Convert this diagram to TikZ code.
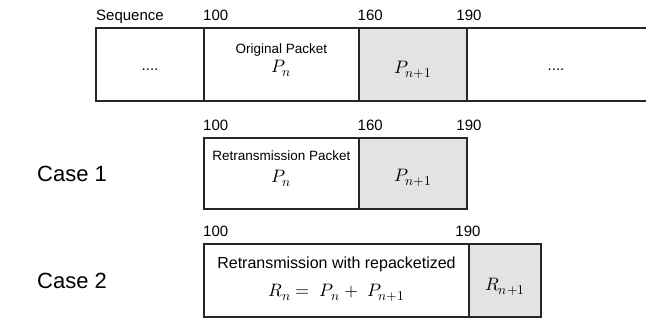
\documentclass[tikz,border=0pt]{standalone}
\usepackage{unicode-math}
\setmainfont{Liberation Sans}
\setmathfont{Latin Modern Math}
\newcommand\mysub[1]{\hbox{\fontsize{13.5}{16}\selectfont$#1$}}
\begin{document}
\begin{tikzpicture}[x=1pt,y=-1pt,
  cell/.style={draw=black!85, line width=1.1pt, inner sep=0pt, outer sep=0pt},
  shaded/.style={cell, fill=black!11},
  edge/.style={draw=black!85, line width=1.1pt},
  lbl/.style={font=\fontsize{15}{18}\selectfont, inner sep=0pt, anchor=base west},
  lblc/.style={lbl, anchor=base},
  casetxt/.style={font=\fontsize{22}{25}\selectfont, inner sep=0pt, anchor=base west},
  small/.style={font=\fontsize{13.5}{16}\selectfont, inner sep=0pt, anchor=base},
  mid/.style={font=\fontsize{16}{19}\selectfont, inner sep=0pt, anchor=base},
  dots/.style={font=\fontsize{15}{17}\selectfont, inner sep=0pt, anchor=base},
  mth/.style={font=\fontsize{18}{21}\selectfont, inner sep=0pt, anchor=base}]
\useasboundingbox (0,0) rectangle (646,322);
% top row
\node[lbl] (seq) at (96,20.5) {Sequence};
\node[lbl] (ta) at (203,20.5) {100};
\node[lbl] (tb) at (357.5,20.5) {160};
\node[lblc] (tc) at (469,20.5) {190};
\node[cell, minimum width=108pt, minimum height=73pt] (s0) at (150,64.5) {};
\node[cell, minimum width=155pt, minimum height=73pt] (s1) at (281.5,64.5) {};
\node[shaded, minimum width=108pt, minimum height=73pt] (s2) at (413,64.5) {};
\coordinate (endtop) at (646,28);
\coordinate (endbot) at (646,101);
\draw[edge] (s2.north east) -- (endtop);
\draw[edge] (s2.south east) -- (endbot);
\node[dots] (d0) at (150,70) {....};
\node[small] (o1) at (281.5,53) {Original Packet};
\node[mth] (o2) at (281.5,72) {$P_{\mysub{n}}$};
\node[mth] (o3) at (413,73) {$P_{\mysub{n{+}1}}$};
\node[dots] (d3) at (556,70) {....};
% case 1
\node[lbl] (ua) at (203,130.5) {100};
\node[lbl] (ub) at (357.5,130.5) {160};
\node[lblc] (uc) at (469,130.5) {190};
\node[casetxt] (c1) at (37,181) {Case 1};
\node[cell, minimum width=155pt, minimum height=71pt] (r1) at (281.5,173.5) {};
\node[shaded, minimum width=108pt, minimum height=71pt] (r2) at (413,173.5) {};
\node[small] (p1) at (281.5,160.5) {Retransmission Packet};
\node[mth] (p2) at (281.5,182) {$P_{\mysub{n}}$};
\node[mth] (p3) at (413,181) {$P_{\mysub{n{+}1}}$};
% case 2
\node[lbl] (va) at (203,236.5) {100};
\node[lblc] (vb) at (468,236.5) {190};
\node[casetxt] (c2) at (37,288) {Case 2};
\node[cell, minimum width=265pt, minimum height=73pt] (q1) at (336.5,280.5) {};
\node[shaded, minimum width=72pt, minimum height=73pt] (q2) at (505,280.5) {};
\node[mid] (w1) at (336.5,268) {Retransmission with repacketized};
\node[mth] (w2) at (336.5,296) {$R_{\mysub{n}} =\ P_{\mysub{n}} +\ P_{\mysub{n{+}1}}$};
\node[mth] (w3) at (505,290) {$R_{\mysub{n{+}1}}$};
\end{tikzpicture}
\end{document}
